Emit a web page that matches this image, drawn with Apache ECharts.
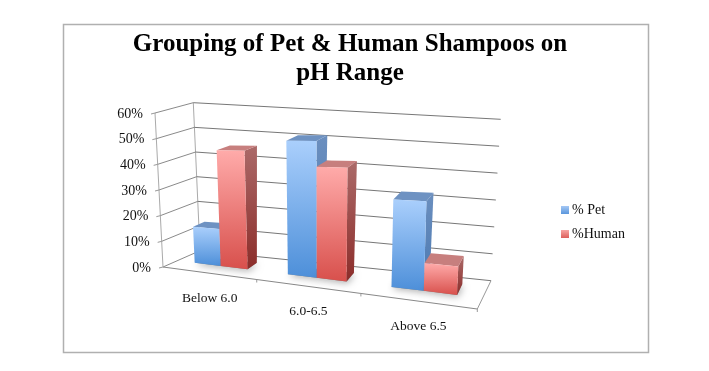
<!DOCTYPE html>
<html><head><meta charset="utf-8">
<style>html,body{margin:0;padding:0;background:#fff}#c{width:709px;height:371px}</style>
<script src="https://cdn.jsdelivr.net/npm/echarts@6/dist/echarts.min.js"></script>
</head><body><div id="c"></div>
<script>
const titleText = 'Grouping of Pet & Human Shampoos on\npH Range';
const categories = ['Below 6.0', '6.0-6.5', 'Above 6.5'];
const petValues = [14, 48, 29];
const humanValues = [44, 39, 9];
const valueTicks = [0, 10, 20, 30, 40, 50, 60];

const G = {left: 163, top: 113, width: 314, height: 154};
// walls: corners of the box
const FBL=[163,267], FBR=[477.3,309], BBL=[200,250.7], BBR=[491,280.7];
const FTL=[155,113], FTR=[488.3,139], BTL=[193.3,102.7], BTR=[500.7,119.3];
// bars: front plane and back plane of the bar row
const P0={bl:[176.3,260.5],br:[482,298],tl:[168.3,108.7],tr:[490.7,104.7]};
const P1={bl:[187,255.5],br:[486.7,286.5],tl:[184,105],tr:[497.3,97.5]};
const K = 0.85, BAR_FRACTION = 0.29;
const lerp=(a,b,t)=>[a[0]+(b[0]-a[0])*t,a[1]+(b[1]-a[1])*t];
const warp=(u)=>K*u/(1+(K-1)*u);
function project(u,v,d){
  const w=warp(u);
  const fb=lerp(FBL,FBR,w), bb=lerp(BBL,BBR,w), ft=lerp(FTL,FTR,w), bt=lerp(BTL,BTR,w);
  return lerp(lerp(fb,bb,d),lerp(ft,bt,d),v);
}
function onPlane(P,u,v){
  const w=warp(u);
  return lerp(lerp(P.bl,P.br,w),lerp(P.tl,P.tr,w),v);
}
const uOf=(x)=>(x-G.left)/G.width;
const vOf=(y)=>(G.top+G.height-y)/G.height;
const grad=(a,b)=>({type:'linear',x:0,y:0,x2:0,y2:1,colorStops:[{offset:0,color:a},{offset:1,color:b}]});
const poly=(points,fill,z2,extra)=>({type:'polygon',z2,shape:{points},style:Object.assign({fill,stroke:null},extra||{})});
const line=(a,b,color,width)=>({type:'line',shape:{x1:a[0],y1:a[1],x2:b[0],y2:b[1]},style:{stroke:color,lineWidth:width||1,fill:null}});

const PET={front:grad('#aacffc','#4d8fd9'),side:grad('#6b8fbf','#4a78b0'),top:'#6e92c2',legend:grad('#a5c8f5','#5a96dc')};
const HUMAN={front:grad('#ffabaa','#d8504c'),side:grad('#ab6a69','#8c2d2a'),top:'#c77f7e',legend:grad('#f7a5a3','#dc5f5b')};

function barRender(pal,sign){
  return function(params,api){
    const i=api.value(0), val=api.value(1);
    const c=api.coord([i,val]), base=api.coord([i,0]);
    const bar=api.size([1,0])[0]*BAR_FRACTION;
    const uA=uOf(sign<0?c[0]-bar:c[0]), uB=uOf(sign<0?c[0]:c[0]+bar);
    const vT=vOf(c[1]), vB=vOf(base[1]);
    const fl=onPlane(P0,uA,vB), fr=onPlane(P0,uB,vB), tl=onPlane(P0,uA,vT), tr=onPlane(P0,uB,vT);
    const bl=onPlane(P1,uA,vB), br=onPlane(P1,uB,vB), tbl=onPlane(P1,uA,vT), tbr=onPlane(P1,uB,vT);
    return {type:'group',children:[
      poly([fl,fr,br,bl],'rgba(60,60,60,0.55)',1,{shadowBlur:7,shadowColor:'rgba(0,0,0,0.55)',shadowOffsetX:1,shadowOffsetY:2}),
      poly([tr,fr,br,tbr],pal.side,2),
      poly([tl,tr,tbr,tbl],pal.top,3),
      poly([tl,tr,fr,fl],pal.front,4)
    ]};
  };
}

function wallRender(params,api){
  const t=api.value(0), v=vOf(api.coord([0,t])[1]);
  const a=project(0,v,0), b=project(0,v,1), c=project(1,v,1);
  const kids=[line(a,b,'#8a8a8a'),line(b,c,'#777'),line([a[0]-4,a[1]+1],a,'#999'),
    {type:'text',style:{text:t+'%',x:a[0]-12,y:a[1]+1,align:'right',verticalAlign:'middle',font:'14px "Liberation Serif"',fill:'#111'}}];
  if(t===0){
    kids.push(line(a,project(1,0,0),'#888'),line(project(1,0,0),project(1,0,1),'#999'));
    kids.push(line(a,project(0,1,0),'#aaa'),line(b,project(0,1,1),'#aaa'));
    [1/3,2/3,1].forEach(u=>{const p=project(u,0,0);kids.push(line(p,[p[0],p[1]+3],'#999'));});
  }
  return {type:'group',children:kids};
}
function catRender(params,api){
  const c=api.coord([api.value(0),0]);
  const p=project(uOf(c[0]),0,0);
  return {type:'text',style:{text:categories[api.value(0)],x:p[0]+1,y:p[1]+25,align:'center',verticalAlign:'middle',font:'13.5px "Liberation Serif"',fill:'#111'}};
}

const chart=echarts.init(document.getElementById('c'),null,{renderer:'canvas'});
chart.setOption({
  animation:false,
  backgroundColor:'#fff',
  title:{text:titleText,left:350,top:30,padding:0,textAlign:'center',
    textStyle:{fontFamily:'Liberation Serif',fontSize:25,fontWeight:'bold',color:'#000',lineHeight:29}},
  graphic:[{type:'rect',silent:true,shape:{x:63.5,y:24.5,width:585,height:328},style:{fill:'none',stroke:'#b0b0b0',lineWidth:1.5}}],
  legend:{orient:'vertical',left:556,top:198,itemWidth:8,itemHeight:8,itemGap:10,icon:'rect',
    data:['% Pet','%Human'],textStyle:{fontFamily:'Liberation Serif',fontSize:14,color:'#111',padding:[2,0,0,-2]}},
  grid:{left:G.left,top:G.top,width:G.width,height:G.height},
  xAxis:{type:'category',data:categories,show:false},
  yAxis:{type:'value',min:0,max:60,interval:10,show:false},
  series:[
    {type:'custom',name:'walls',silent:true,z:1,renderItem:wallRender,data:valueTicks.map(t=>[t]),encode:{y:0}},
    {type:'custom',name:'cats',silent:true,z:1,renderItem:catRender,data:categories.map((c,i)=>[i]),encode:{x:0}},
    {type:'custom',name:'% Pet',z:2,renderItem:barRender(PET,-1),itemStyle:{color:PET.legend},data:petValues.map((v,i)=>[i,v]),encode:{x:0,y:1}},
    {type:'custom',name:'%Human',z:3,renderItem:barRender(HUMAN,1),itemStyle:{color:HUMAN.legend},data:humanValues.map((v,i)=>[i,v]),encode:{x:0,y:1}}
  ]
});
</script></body></html>
